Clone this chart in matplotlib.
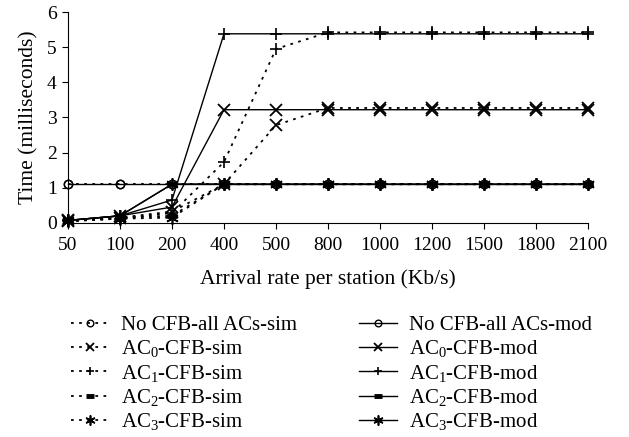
import matplotlib.pyplot as plt

plt.rcParams['font.family'] = 'Liberation Serif'
plt.rcParams['mathtext.fontset'] = 'custom'
plt.rcParams['mathtext.rm'] = 'Liberation Serif'
plt.rcParams['mathtext.it'] = 'Liberation Serif:italic'

rates = ['50', '100', '200', '400', '500', '800', '1000', '1200', '1500', '1800', '2100']

# simulation results (ms)
nocfb_sim = [1.1, 1.1, 1.1, 1.1, 1.1, 1.1, 1.1, 1.1, 1.1, 1.1, 1.1]
ac0_sim = [0.05, 0.15, 0.32, 1.1, 2.78, 3.27, 3.27, 3.27, 3.27, 3.27, 3.27]
ac1_sim = [0.05, 0.12, 0.28, 1.73, 4.95, 5.42, 5.42, 5.42, 5.42, 5.42, 5.42]
ac2_sim = [0.05, 0.15, 0.2, 1.1, 1.1, 1.1, 1.1, 1.1, 1.1, 1.1, 1.1]
ac3_sim = [0.05, 0.12, 0.15, 1.1, 1.1, 1.1, 1.1, 1.1, 1.1, 1.1, 1.1]

# model results (ms)
nocfb_mod = [1.1, 1.1, 1.1, 1.1, 1.1, 1.1, 1.1, 1.1, 1.1, 1.1, 1.1]
ac0_mod = [0.07, 0.2, 0.45, 3.22, 3.22, 3.22, 3.22, 3.22, 3.22, 3.22, 3.22]
ac1_mod = [0.07, 0.2, 0.65, 5.38, 5.38, 5.38, 5.38, 5.38, 5.38, 5.38, 5.38]
ac2_mod = [0.07, 0.2, 1.1, 1.1, 1.1, 1.1, 1.1, 1.1, 1.1, 1.1, 1.1]
ac3_mod = [0.07, 0.2, 1.1, 1.1, 1.1, 1.1, 1.1, 1.1, 1.1, 1.1, 1.1]

names = ['No CFB-all ACs', r'AC$_0$-CFB', r'AC$_1$-CFB', r'AC$_2$-CFB', r'AC$_3$-CFB']
# marker, size, edge width, face colour
markers = [('o', 6, 1.0, 'none'), ('x', 8, 1.3, 'black'), ('+', 8, 1.2, 'black'),
           ('_', 7, 3.5, 'black'), ((6, 2, 0), 9, 1.2, 'black')]
sims = [nocfb_sim, ac0_sim, ac1_sim, ac2_sim, ac3_sim]
mods = [nocfb_mod, ac0_mod, ac1_mod, ac2_mod, ac3_mod]

fig = plt.figure(figsize=(6.29, 4.37), dpi=100)
ax = fig.add_axes([0.108, 0.49, 0.827, 0.4825])
x = list(range(len(rates)))

handles = []
for name, (m, ms, mew, mfc), ys in zip(names, markers, sims):
    ln, = ax.plot(x, ys, color='black', linestyle=(0, (1.5, 3)), linewidth=1.3,
                  marker=m, markersize=ms, markeredgewidth=mew, markerfacecolor=mfc,
                  clip_on=False, label=name + '-sim')
    handles.append(ln)
for name, (m, ms, mew, mfc), ys in zip(names, markers, mods):
    ln, = ax.plot(x, ys, color='black', linestyle='-', linewidth=1.0,
                  marker=m, markersize=ms, markeredgewidth=mew, markerfacecolor=mfc,
                  clip_on=False, label=name + '-mod')
    handles.append(ln)

ax.set_xlim(0, 10)
ax.set_ylim(0, 6)
ax.set_xticks(x)
ax.set_xticklabels(rates)
ax.set_yticks(range(7))
ax.spines['top'].set_visible(False)
ax.spines['right'].set_visible(False)
ax.tick_params(labelsize=14, length=4, direction='out', pad=4)
ax.tick_params(axis='x', pad=6)
ax.set_xlabel('Arrival rate per station (Kb/s)', fontsize=15.5, labelpad=11)
ax.set_ylabel('Time (milliseconds)', fontsize=15.5, labelpad=6)

fig.legend(handles=handles, ncol=2, loc='upper left', bbox_to_anchor=(0.096, 0.302),
           frameon=False, fontsize=15, handlelength=1.8, columnspacing=3.0,
           labelspacing=0.16, handletextpad=0.6, borderpad=0, markerscale=0.8)

fig.savefig('out.png', dpi=100)
